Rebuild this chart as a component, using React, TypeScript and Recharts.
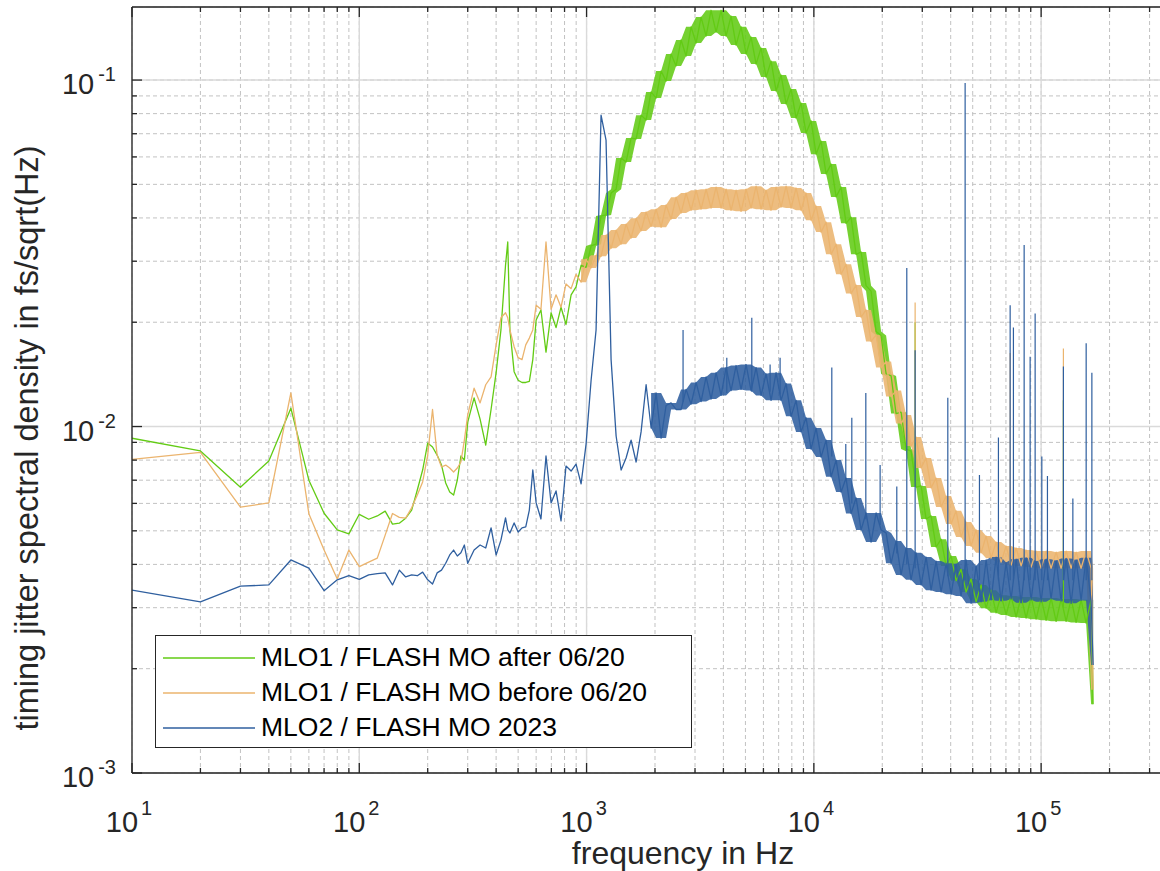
import React from "react";
import { ComposedChart, Line, Area, XAxis, YAxis, CartesianGrid, Legend, Label } from "recharts";

// frequency grid in Hz, shared by the three spectra
const freqHz = [
  10, 20, 30, 40, 50, 60, 70, 80, 90, 100,
  110, 120, 130, 140, 150, 160, 170, 180, 190, 200,
  210, 220, 230, 240, 250, 260, 270, 280, 290, 300,
  320, 340, 360, 380, 400, 420, 440, 450, 460, 480,
  500, 520, 540, 560, 580, 600,
  630, 663, 698, 734, 772, 812, 855, 899, 946, 995,
  1047, 1101, 1158, 1218, 1282, 1349, 1419, 1492, 1570, 1652,
  1737, 1828, 1923, 2023, 2128, 2238, 2354, 2477, 2605, 2741,
  2883, 3033, 3190, 3356, 3530, 3714, 3907, 4110, 4323, 4548,
  4784, 5033, 5294, 5570, 5859, 6163, 6484, 6820, 7175, 7548,
  7940, 8352, 8786, 9243, 9723, 10230, 10760, 11320, 11910, 12530,
  13180, 13860, 14580, 15340, 16140, 16970, 17860, 18790, 19760, 20790,
  21870, 23000, 24200, 25460, 26780, 28170, 29640, 31180, 32800, 34500,
  36300, 38180, 40170, 42250, 44450, 46760, 49190, 51750, 54440, 57270,
  60240, 63370, 66660, 70130, 73770, 77610, 81640, 85880, 90350, 95040,
  99980, 105200, 110600, 116400, 122400, 128800, 135500, 142500, 149900, 157700,
  165900, 169300,
];

// timing jitter spectral density, fs/sqrt(Hz)
const mlo1After = [
  0.00925, 0.0085, 0.00668, 0.00795, 0.0113, 0.007, 0.00562, 0.00503, 0.0049, 0.00558,
  0.0054, 0.00552, 0.0057, 0.00523, 0.00526, 0.00544, 0.00574, 0.00656, 0.00749, 0.00896,
  0.00873, 0.00827, 0.00774, 0.00687, 0.00647, 0.00634, 0.00701, 0.00822, 0.008, 0.0103,
  0.0121, 0.0105, 0.00884, 0.0112, 0.0143, 0.019, 0.0292, 0.0341, 0.019, 0.0144,
  0.0136, 0.0134, 0.0134, 0.0135, 0.0156, 0.0203,
  0.0217, 0.0164, 0.0213, 0.0193, 0.0221, 0.0197, 0.024, 0.0253, 0.0292, 0.0288,
  0.0332, 0.0336, 0.0405, 0.0408, 0.0472, 0.0484, 0.0596, 0.058, 0.068, 0.0676,
  0.0792, 0.0767, 0.0924, 0.0887, 0.1062, 0.0993, 0.1189, 0.1098, 0.1305, 0.1173,
  0.1424, 0.1279, 0.152, 0.134, 0.159, 0.1376, 0.159, 0.134, 0.153, 0.1262,
  0.1424, 0.1189, 0.1331, 0.1112, 0.1237, 0.102, 0.1134, 0.093, 0.1034, 0.0853,
  0.0942, 0.0777, 0.0858, 0.0703, 0.0762, 0.0611, 0.0667, 0.0536, 0.0572, 0.046,
  0.0491, 0.0386, 0.0402, 0.0314, 0.0319, 0.0255, 0.0246, 0.0188, 0.0183, 0.0142,
  0.014, 0.0109, 0.011, 0.00861, 0.00849, 0.00669, 0.00674, 0.00541, 0.00552, 0.00449,
  0.00473, 0.00396, 0.00423, 0.00359, 0.00387, 0.00333, 0.00363, 0.00312, 0.00349, 0.00299,
  0.00337, 0.0029, 0.00326, 0.00286, 0.00324, 0.00282, 0.00322, 0.0028, 0.00322, 0.00278,
  0.0032, 0.00276, 0.0032, 0.00274, 0.00318, 0.00274, 0.00318, 0.00272, 0.00316, 0.00271,
  0.00316, 0.00158,
];

const mlo1Before = [
  0.00804, 0.00842, 0.00585, 0.00602, 0.0125, 0.0056, 0.0044, 0.00363, 0.0044, 0.00394,
  0.00406, 0.00417, 0.00486, 0.00561, 0.00547, 0.00544, 0.00583, 0.00634, 0.00692, 0.00827,
  0.0112, 0.00827, 0.00764, 0.00774, 0.00759, 0.00739, 0.00759, 0.0079, 0.00914, 0.0108,
  0.0129, 0.0117, 0.0132, 0.0139, 0.0172, 0.0206, 0.0213, 0.0206, 0.019, 0.017,
  0.0158, 0.0156, 0.0172, 0.018, 0.019, 0.0224,
  0.0218, 0.0341, 0.0218, 0.024, 0.0221, 0.0258, 0.025, 0.0275, 0.0261, 0.0304,
  0.0287, 0.0312, 0.031, 0.0357, 0.0327, 0.0369, 0.0336, 0.0384, 0.035, 0.0399,
  0.0367, 0.0416, 0.0378, 0.0424, 0.0376, 0.0436, 0.0397, 0.0459, 0.0413, 0.0472,
  0.0421, 0.0481, 0.0424, 0.0484, 0.0427, 0.0491, 0.0427, 0.0484, 0.0421, 0.0481,
  0.0418, 0.0484, 0.0427, 0.0494, 0.0424, 0.0481, 0.0421, 0.0491, 0.043, 0.0494,
  0.0427, 0.0488, 0.0421, 0.0472, 0.0394, 0.0433, 0.0364, 0.0389, 0.0314, 0.0336,
  0.0275, 0.0294, 0.0242, 0.0256, 0.0207, 0.0217, 0.0176, 0.0184, 0.0148, 0.0154,
  0.0122, 0.0127, 0.0102, 0.0108, 0.00878, 0.00932, 0.00759, 0.00811, 0.00665, 0.0071,
  0.00586, 0.0063, 0.00523, 0.00571, 0.0048, 0.0053, 0.00452, 0.00503, 0.00432, 0.00483,
  0.00417, 0.00464, 0.00406, 0.00452, 0.00398, 0.00446, 0.00396, 0.0044, 0.00393, 0.00437,
  0.0039, 0.00437, 0.0039, 0.00434, 0.0039, 0.00437, 0.0039, 0.00434, 0.0039, 0.00437,
  0.0039, 0.00174,
];

const mlo2 = [
  0.00337, 0.00312, 0.00346, 0.00349, 0.00412, 0.0039, 0.00336, 0.00361, 0.00371, 0.00362,
  0.00373, 0.00376, 0.00378, 0.00349, 0.00385, 0.00368, 0.00373, 0.00371, 0.0038, 0.00361,
  0.00351, 0.00378, 0.00385, 0.00403, 0.00426, 0.0044, 0.00423, 0.00432, 0.00455, 0.00403,
  0.0044, 0.00455, 0.00446, 0.0051, 0.00426, 0.0047, 0.00545, 0.00503, 0.00493, 0.00527,
  0.00496, 0.0051, 0.00513, 0.00574, 0.00749, 0.00602,
  0.00541, 0.00822, 0.00602, 0.00652, 0.00534, 0.00769, 0.00744, 0.00779, 0.00683, 0.0089,
  0.0136, 0.019, 0.0792, 0.0671, 0.0156, 0.00939, 0.00749, 0.00811, 0.00914, 0.0079,
  0.00965, 0.0132, 0.0099, 0.0125, 0.00926, 0.0115, 0.0117, 0.0112, 0.0112, 0.0128,
  0.0116, 0.0134, 0.0118, 0.0139, 0.012, 0.0143, 0.0123, 0.0148, 0.0127, 0.015,
  0.0128, 0.0151, 0.0127, 0.0148, 0.0123, 0.0142, 0.0119, 0.0143, 0.0119, 0.0133,
  0.0107, 0.0119, 0.00965, 0.0106, 0.00861, 0.0099, 0.00816, 0.00914, 0.00716, 0.008,
  0.00647, 0.0071, 0.00561, 0.00622, 0.00503, 0.00563, 0.00464, 0.00563, 0.00503, 0.00493,
  0.00403, 0.00467, 0.00373, 0.00446, 0.00361, 0.00432, 0.00349, 0.0042, 0.00337, 0.00409,
  0.00333, 0.00403, 0.00328, 0.00401, 0.00324, 0.00412, 0.00309, 0.00396, 0.00312, 0.00412,
  0.00316, 0.0042, 0.00314, 0.00405, 0.00318, 0.00414, 0.0031, 0.00418, 0.00316, 0.00408,
  0.00312, 0.00414, 0.00318, 0.0041, 0.00314, 0.00416, 0.00309, 0.00412, 0.00315, 0.00418,
  0.00314, 0.00205,
];

// index from which each spectrum is a dense noise band rather than a thin trace
const denseFrom = { after: 54, before: 54, mlo2: 68 };

// narrow spectral lines: [frequency, floor, top]
const mlo2Spikes = [
  [2658, 0.0118, 0.019], [4140, 0.0125, 0.0158], [5333, 0.0126, 0.0206], [6420, 0.0126, 0.0151],
  [7104, 0.0124, 0.0158], [11995, 0.0082, 0.0148], [13820, 0.007, 0.0089], [14690, 0.006, 0.0106],
  [16930, 0.0054, 0.0125], [19570, 0.0052, 0.00774], [23170, 0.0043, 0.00671], [25640, 0.004, 0.0287],
  [27900, 0.0039, 0.0166], [38850, 0.0037, 0.0121], [46300, 0.0036, 0.098], [53530, 0.0036, 0.00725],
  [64880, 0.0036, 0.0093], [73060, 0.0036, 0.0224], [75520, 0.0036, 0.0193], [84190, 0.0036, 0.0334],
  [89450, 0.0036, 0.0159], [94100, 0.0036, 0.0212], [100700, 0.0036, 0.0082], [106600, 0.0036, 0.0072],
  [125300, 0.0036, 0.0149], [137900, 0.0036, 0.0062], [157800, 0.0036, 0.0174], [167200, 0.0036, 0.0143],
];
const mlo1BeforeSpikes = [[27900, 0.009, 0.0228], [73060, 0.004, 0.0163], [125300, 0.004, 0.0168]];
const mlo1AfterSpikes = [[27900, 0.007, 0.02], [125300, 0.003, 0.0119]];

const seriesNames = ["MLO1 / FLASH MO after 06/20", "MLO1 / FLASH MO before 06/20", "MLO2 / FLASH MO 2023"];

const xMajor = [10, 100, 1000, 10000, 100000];
const xMinor = [
  20, 30, 40, 50, 60, 70, 80, 90, 200, 300, 400, 500, 600, 700, 800, 900,
  2000, 3000, 4000, 5000, 6000, 7000, 8000, 9000, 20000, 30000, 40000, 50000, 60000, 70000, 80000, 90000,
  200000, 300000, 400000,
];
const yMajor = [0.001, 0.01, 0.1];
const yMinor = [0.002, 0.003, 0.004, 0.005, 0.006, 0.007, 0.008, 0.009, 0.02, 0.03, 0.04, 0.05, 0.06, 0.07, 0.08, 0.09];

const xTicks = [...xMajor, ...xMinor].sort((a, b) => a - b);
const yTicks = [...yMajor, ...yMinor].sort((a, b) => a - b);
const X_DOMAIN = [10, 500000];
const Y_DOMAIN = [0.001, 0.1625];

const GREEN = "#62cb14";
const ORANGE = "#ebb46e";
const BLUE = "#2f5f9f";
const AXIS = "#262626";
const FONT = '"Liberation Sans", Arial, sans-serif';
const colors = [GREEN, ORANGE, BLUE];

// min/max over neighbouring samples, used as a fill under the noisy part
const band = (vals: number[], start: number, i: number) => {
  if (i < start) return null;
  const w = vals.slice(Math.max(start, i - 1), i + 2);
  return [Math.min(...w), Math.max(...w)];
};

const rows = freqHz.map((f, i) => ({
  f,
  after: mlo1After[i],
  before: mlo1Before[i],
  mlo2: mlo2[i],
  afterBand: band(mlo1After, denseFrom.after, i),
  beforeBand: band(mlo1Before, denseFrom.before, i),
  mlo2Band: band(mlo2, denseFrom.mlo2, i),
}));
const spikeRows = (list: number[][]) =>
  list.flatMap(([f, lo, hi]) => [{ f, v: lo }, { f, v: hi }, { f, v: null }]);

const exponent = (v: number) => Math.round(Math.log10(v));

const BottomTick = (p: any) => {
  const { x, y, payload } = p;
  const major = xMajor.includes(payload.value);
  return (
    <g>
      <line x1={x} y1={y} x2={x} y2={y - (major ? 10 : 5)} stroke={AXIS} strokeWidth={1.3} />
      {major && (
        <text x={x - 3} y={y + 59} textAnchor="middle" fontSize={29} fill={AXIS} fontFamily={FONT}>
          10
          <tspan dx={3} dy={-17} fontSize={20}>{exponent(payload.value)}</tspan>
        </text>
      )}
    </g>
  );
};

const TopTick = (p: any) => {
  const { x, y, payload } = p;
  const major = xMajor.includes(payload.value);
  return <line x1={x} y1={y} x2={x} y2={y + (major ? 10 : 5)} stroke={AXIS} strokeWidth={1.3} />;
};

const LeftTick = (p: any) => {
  const { x, y, payload } = p;
  const major = yMajor.includes(payload.value);
  return (
    <g>
      <line x1={x} y1={y} x2={x + (major ? 10 : 5)} y2={y} stroke={AXIS} strokeWidth={1.3} />
      {major && (
        <text x={x - 16} y={y + 14} textAnchor="end" fontSize={29} fill={AXIS} fontFamily={FONT}>
          10
          <tspan dx={4} dy={-13} fontSize={20}>{exponent(payload.value)}</tspan>
        </text>
      )}
    </g>
  );
};

const XTitle = () => (
  <text x={683} y={864} textAnchor="middle" fontSize={32} fill={AXIS} fontFamily={FONT}>
    frequency in Hz
  </text>
);

const YTitle = () => (
  <text x={38} y={438} transform="rotate(-90, 38, 438)" textAnchor="middle" fontSize={32.5} fill={AXIS} fontFamily={FONT}>
    timing jitter spectral density in fs/sqrt(Hz)
  </text>
);

const LegendBox = () => (
  <div
    style={{
      border: `1.3px solid ${AXIS}`,
      background: "#fff",
      width: 537,
      height: 113,
      boxSizing: "border-box",
      paddingTop: 4,
    }}
  >
    {seriesNames.map((name, i) => (
      <div key={name} style={{ display: "flex", alignItems: "center", height: 35 }}>
        <svg width={98} height={4} style={{ marginLeft: 7, flex: "none" }}>
          <line x1={0} y1={2} x2={92} y2={2} stroke={colors[i]} strokeWidth={1.5} />
        </svg>
        <span style={{ fontFamily: FONT, fontSize: 26.5, color: "#000", whiteSpace: "nowrap", lineHeight: "35px" }}>
          {name}
        </span>
      </div>
    ))}
  </div>
);

export default function App() {
  return (
    <div style={{ position: "absolute", left: 0, top: 0, width: 1160, height: 871, overflow: "hidden", background: "#fff" }}>
      <ComposedChart width={1220} height={871} data={rows} margin={{ top: 2, right: 20, bottom: 0, left: 0 }}>
        <CartesianGrid strokeDasharray="4 3" stroke="#c2c2c2" strokeWidth={1} />
        <CartesianGrid xAxisId="major" yAxisId="major" stroke="#dadada" strokeWidth={1.4} />
        <XAxis
          dataKey="f"
          type="number"
          scale="log"
          domain={X_DOMAIN}
          allowDataOverflow
          ticks={xTicks}
          interval={0}
          tick={BottomTick}
          tickLine={false}
          tickSize={0}
          tickMargin={0}
          height={98}
          axisLine={{ stroke: AXIS, strokeWidth: 1.3 }}
        >
          <Label content={XTitle} />
        </XAxis>
        <XAxis
          xAxisId="top"
          orientation="top"
          dataKey="f"
          type="number"
          scale="log"
          domain={X_DOMAIN}
          allowDataOverflow
          ticks={xTicks}
          interval={0}
          tick={TopTick}
          tickLine={false}
          tickSize={0}
          tickMargin={0}
          height={5}
          axisLine={{ stroke: AXIS, strokeWidth: 1.3 }}
        />
        <XAxis xAxisId="major" dataKey="f" type="number" scale="log" domain={X_DOMAIN} allowDataOverflow ticks={xMajor} hide />
        <YAxis
          type="number"
          scale="log"
          domain={Y_DOMAIN}
          allowDataOverflow
          ticks={yTicks}
          interval={0}
          tick={LeftTick}
          tickLine={false}
          tickSize={0}
          tickMargin={0}
          width={132}
          axisLine={{ stroke: AXIS, strokeWidth: 1.3 }}
        >
          <Label content={YTitle} />
        </YAxis>
        <YAxis yAxisId="major" type="number" scale="log" domain={Y_DOMAIN} allowDataOverflow ticks={yMajor} hide />

        <Area dataKey="afterBand" stroke="none" fill={GREEN} fillOpacity={0.88} dot={false} activeDot={false} legendType="none" isAnimationActive={false} />
        <Area dataKey="beforeBand" stroke="none" fill={ORANGE} fillOpacity={0.88} dot={false} activeDot={false} legendType="none" isAnimationActive={false} />
        <Area dataKey="mlo2Band" stroke="none" fill={BLUE} fillOpacity={0.88} dot={false} activeDot={false} legendType="none" isAnimationActive={false} />

        <Line dataKey="after" name={seriesNames[0]} stroke={GREEN} strokeWidth={1.3} strokeLinejoin="round" dot={false} isAnimationActive={false} />
        <Line dataKey="before" name={seriesNames[1]} stroke={ORANGE} strokeWidth={1.3} strokeLinejoin="round" dot={false} isAnimationActive={false} />
        <Line dataKey="mlo2" name={seriesNames[2]} stroke={BLUE} strokeWidth={1.3} strokeLinejoin="round" dot={false} isAnimationActive={false} />
        <Line data={spikeRows(mlo1AfterSpikes)} dataKey="v" stroke={GREEN} strokeWidth={1.2} dot={false} legendType="none" isAnimationActive={false} />
        <Line data={spikeRows(mlo1BeforeSpikes)} dataKey="v" stroke={ORANGE} strokeWidth={1.2} dot={false} legendType="none" isAnimationActive={false} />
        <Line data={spikeRows(mlo2Spikes)} dataKey="v" stroke={BLUE} strokeWidth={1.2} dot={false} legendType="none" isAnimationActive={false} />

        <Legend
          content={() => <LegendBox />}
          layout="vertical"
          align="center"
          verticalAlign="middle"
          wrapperStyle={{ left: 155, top: 635, width: 537, height: 113 }}
        />
      </ComposedChart>
    </div>
  );
}
